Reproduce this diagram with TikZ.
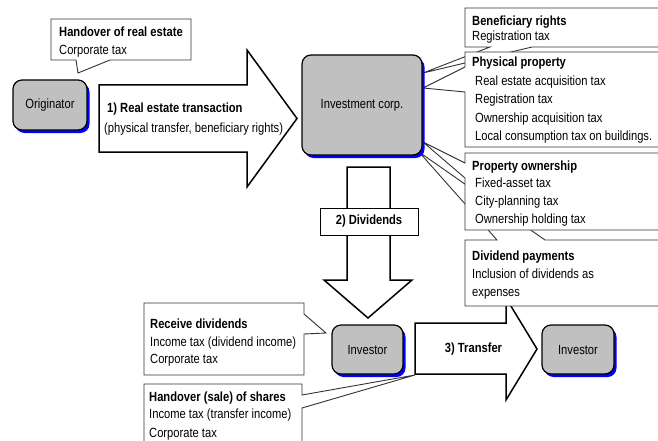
\documentclass[tikz,border=0pt]{standalone}
\usepackage{fontspec}
\setmainfont{Liberation Sans}[FakeStretch=0.84]
\usepackage{xcolor}
\usetikzlibrary{calc, shadows}

\definecolor{boxgray}{RGB}{192,192,192}

\begin{document}
\begin{tikzpicture}[x=1pt, y=-1pt, >=latex,
    every node/.style={font=\fontsize{13.3}{18}\selectfont, inner sep=0pt},
    party/.style={draw=black, line width=1.2pt, fill=boxgray, rounded corners=9pt,
        drop shadow={fill=blue, opacity=1, shadow xshift=2.5pt, shadow yshift=-3pt}},
    bigarrow/.style={draw=black, line width=1.5pt, fill=white, line join=miter},
    taxbox/.style={draw=black!80, line width=0.9pt, fill=white, line join=miter},
    lbl/.style={anchor=base west}]
    \useasboundingbox (0,0) rectangle (658,441);
    \clip (0,0) rectangle (658,441);

    % 1. Các điểm mũi nhọn của các hộp chú thích
    \coordinate (tipRE)  at (78,73);
    \coordinate (tipBen) at (423,73);
    \coordinate (tipPhy) at (423,88);
    \coordinate (tipPro) at (423,142);
    \coordinate (tipDiv) at (419,152);
    \coordinate (tipRec) at (326,333);
    \coordinate (tipSh)  at (415,375);

    % 2. Ba mũi tên lớn
    \draw[bigarrow] (99,85) -- (247,85) -- (247,50) -- (297,118.5) -- (247,187) -- (247,152) -- (99,152) -- cycle;
    \draw[bigarrow] (347,167) -- (390,167) -- (390,280) -- (412,280) -- (368,318) -- (324,280) -- (347,280) -- cycle;
    \node[draw=black, line width=1pt, fill=white, minimum width=98pt, minimum height=27pt] (divlbl) at (369,221.5) {\textbf{2) Dividends}};
    \draw[bigarrow] (415,323) -- (506,323) -- (506,298) -- (537,349) -- (506,400) -- (506,374) -- (415,374) -- cycle;

    % 3. Các hộp chú thích (vẽ theo thứ tự che nhau)
    \draw[taxbox] (51,19) -- (191,19) -- (191,60) -- (110,60) -- (tipRE) -- (76,60) -- (51,60) -- cycle;
    \draw[taxbox] (465,240) -- (497,240) -- (tipDiv) -- (545,240) -- (670,240) -- (670,306) -- (465,306) -- cycle;
    \draw[taxbox] (465,153) -- (670,153) -- (670,230) -- (465,230) -- (465,178) -- (tipPro) -- (465,163) -- cycle;
    \draw[taxbox] (465,8) -- (670,8) -- (670,47) -- (532,47) -- (tipBen) -- (490,47) -- (465,47) -- cycle;
    \draw[taxbox] (465,52) -- (670,52) -- (670,147) -- (465,147) -- (465,92) -- (tipPhy) -- (465,67) -- cycle;
    \draw[taxbox] (144,303) -- (304,303) -- (304,314) -- (tipRec) -- (304,334) -- (304,375) -- (144,375) -- cycle;
    \draw[taxbox] (144,384) -- (302,384) -- (302,395) -- (tipSh) -- (302,408) -- (302,450) -- (144,450) -- cycle;

    % 4. Các bên tham gia
    \node[party, minimum width=74pt, minimum height=50pt] (orig) at (50,105) {Originator};
    \node[party, minimum width=120pt, minimum height=100pt] (inv) at (362,105) {Investment corp.};
    \node[party, minimum width=71pt, minimum height=49pt] (invA) at (367.5,349.5) {Investor};
    \node[party, minimum width=72pt, minimum height=49pt] (invB) at (578,349.5) {Investor};

    % 5. Nhãn trên mũi tên
    \node[lbl] (trT) at (107,112.5) {\textbf{1) Real estate transaction}};
    \node[lbl] (trS) at (104,132) {(physical transfer, beneficiary rights)};
    \node (trf) at (473.5,349) {\textbf{3) Transfer}};

    % 6. Nội dung các hộp chú thích
    \node[lbl] (reT) at (59,36.5) {\textbf{Handover of real estate}};
    \node[lbl] (reC) at (59,55) {Corporate tax};

    \node[lbl] (benT) at (472,25.5) {\textbf{Beneficiary rights}};
    \node[lbl] (benA) at (472,41) {Registration tax};

    \node[lbl] (phyT) at (472,67) {\textbf{Physical property}};
    \foreach \t [count=\i] in {Real estate acquisition tax, Registration tax,
        Ownership acquisition tax, Local consumption tax on buildings.}
        \node[lbl] (phy\i) at (475,68+18*\i) {\t};

    \node[lbl] (proT) at (472,170) {\textbf{Property ownership}};
    \foreach \t [count=\i] in {Fixed-asset tax, City-planning tax, Ownership holding tax}
        \node[lbl] (pro\i) at (475,169+18*\i) {\t};

    \node[lbl] (divT) at (472,260) {\textbf{Dividend payments}};
    \node[lbl] (divA) at (472,278) {Inclusion of dividends as};
    \node[lbl] (divB) at (472,296.5) {expenses};

    \node[lbl] (recT) at (150,328) {\textbf{Receive dividends}};
    \node[lbl] (recA) at (150,346) {Income tax (dividend income)};
    \node[lbl] (recB) at (150,363.5) {Corporate tax};

    \node[lbl] (shT) at (149,401) {\textbf{Handover (sale) of shares}};
    \node[lbl] (shA) at (149,418.5) {Income tax (transfer income)};
    \node[lbl] (shB) at (149,437) {Corporate tax};
\end{tikzpicture}
\end{document}
